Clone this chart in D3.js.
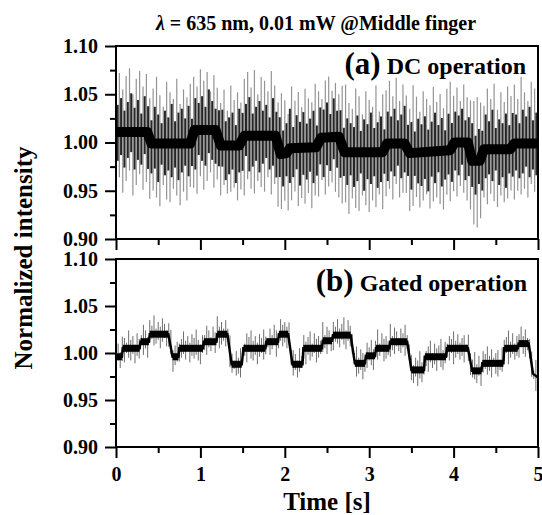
<!DOCTYPE html>
<html>
<head>
<meta charset="utf-8">
<script src="https://cdn.jsdelivr.net/npm/d3@7"></script>
<style>
  body { margin: 0; background: #fff; }
  svg text { font-family: "Liberation Serif", "Times New Roman", serif; font-weight: bold; }
</style>
</head>
<body>
<div class="chart"></div>
<script>
// step levels of the slow (pulse) signal
var coreAT = [0, 0.37, 0.42, 0.88, 0.93, 1.18, 1.24, 1.46, 1.52, 1.89, 1.95, 2.02, 2.06, 2.37, 2.43, 2.64, 2.71, 3.16, 3.21, 3.42, 3.48, 3.96, 4.01, 4.17, 4.22, 4.31, 4.36, 4.67, 4.72, 5.0];
var coreAV = [1.011, 1.011, 0.999, 0.999, 1.013, 1.013, 0.997, 0.997, 1.007, 1.007, 0.988, 0.989, 0.994, 0.995, 1.005, 1.006, 0.990, 0.990, 0.999, 0.999, 0.989, 0.992, 1.000, 1.000, 0.981, 0.981, 0.993, 0.993, 0.999, 0.999];

var coreBT = [0, 0.07, 0.08, 0.28, 0.29, 0.39, 0.40, 0.62, 0.67, 0.74, 0.75, 1.03, 1.04, 1.19, 1.20, 1.32, 1.37, 1.49, 1.51, 1.77, 1.78, 1.92, 1.93, 2.04, 2.09, 2.21, 2.22, 2.44, 2.45, 2.56, 2.57, 2.78, 2.83, 2.95, 2.96, 3.07, 3.08, 3.24, 3.25, 3.45, 3.50, 3.65, 3.66, 3.91, 3.92, 4.17, 4.22, 4.33, 4.34, 4.59, 4.60, 4.76, 4.77, 4.89, 4.94, 5.0];
var coreBV = [0.996, 0.996, 1.005, 1.005, 1.012, 1.012, 1.020, 1.020, 0.996, 0.996, 1.005, 1.005, 1.012, 1.012, 1.020, 1.020, 0.988, 0.988, 1.005, 1.005, 1.012, 1.012, 1.020, 1.020, 0.988, 0.988, 1.005, 1.005, 1.013, 1.013, 1.019, 1.019, 0.989, 0.989, 0.997, 0.997, 1.005, 1.005, 1.012, 1.012, 0.982, 0.982, 0.996, 0.996, 1.005, 1.005, 0.981, 0.981, 0.989, 0.989, 1.005, 1.005, 1.010, 1.010, 0.978, 0.974];

// fast fluctuation, excursion above / below the slow level, in units of 0.001
// (a) long light spikes
var aHi1 = [52, 61, 44, 58, 66, 39, 55, 63, 47, 60, 42, 57, 69, 50, 38, 64, 53, 46, 67, 41, 56, 48, 62, 58, 45, 63, 51, 60, 40, 57, 49, 44, 58, 36, 62, 47, 55, 41, 59, 66, 50, 68, 43, 61, 57, 46, 67, 52, 44, 63, 55, 38, 64, 49, 58, 42, 61, 51, 47, 66, 53, 40, 59, 63, 48, 56, 44, 62, 70, 51, 45, 66, 58, 39, 63, 54, 47, 69, 42, 60, 57, 65, 49, 68, 44, 61, 53, 46, 70, 58, 42, 63, 55, 48, 67, 51, 59, 44, 64, 71, 50, 57, 43, 60, 47, 55, 62, 66, 58, 45, 63, 52, 68, 41, 59, 49, 65, 54, 61, 46, 69, 53, 44, 64, 57, 50];
var aLo1 = [58, 47, 63, 51, 40, 66, 55, 44, 60, 52, 62, 49, 56, 65, 43, 58, 61, 47, 54, 64, 50, 59, 45, 57, 66, 48, 62, 53, 44, 60, 46, 52, 41, 50, 48, 44, 57, 49, 62, 45, 55, 60, 47, 53, 58, 43, 61, 50, 64, 57, 49, 62, 54, 45, 60, 52, 58, 47, 63, 50, 56, 44, 59, 51, 47, 57, 63, 60, 52, 64, 48, 58, 61, 45, 55, 62, 50, 57, 44, 59, 53, 47, 58, 42, 56, 51, 48, 60, 55, 46, 57, 50, 44, 59, 52, 48, 55, 61, 46, 53, 49, 56, 45, 52, 60, 58, 66, 69, 62, 50, 57, 46, 54, 60, 48, 55, 51, 44, 58, 49, 53, 47, 56, 42, 50, 45];
// (a) shorter dark spikes
var aHi2 = [28, 35, 22, 31, 40, 25, 33, 19, 37, 29, 24, 38, 30, 21, 34, 27, 41, 23, 32, 36, 26, 39, 20, 33, 28, 35, 24, 42, 30, 22, 31, 37, 25, 29, 34, 21, 38, 27, 33, 40, 23, 30, 36, 26, 32, 19, 39, 28, 35, 24, 31, 41, 22, 34, 27, 37, 25, 30, 38, 21, 33, 29, 36, 24, 40, 27, 32, 23, 35, 30, 26, 38, 22, 34, 29, 41, 25, 31, 37, 20, 33, 28, 36, 24, 30, 39, 26, 32, 22, 35, 29, 37, 23, 31, 40, 27, 34, 21, 38, 25, 32, 28, 35, 23, 30, 39, 26, 33, 24, 36, 29, 41, 22, 31, 27, 37, 25, 34, 30, 21, 35, 28, 38, 24, 32];
var aLo2 = [30, 24, 37, 27, 21, 39, 29, 34, 23, 36, 31, 26, 40, 22, 33, 28, 35, 25, 38, 30, 23, 34, 29, 41, 26, 32, 37, 24, 31, 35, 27, 22, 36, 30, 25, 39, 28, 33, 21, 37, 32, 26, 38, 29, 23, 35, 31, 40, 27, 34, 24, 36, 30, 22, 39, 28, 33, 25, 37, 31, 26, 41, 29, 35, 23, 32, 38, 27, 34, 24, 36, 30, 22, 40, 28, 33, 25, 37, 31, 26, 39, 29, 34, 23, 36, 30, 27, 38, 24, 32, 35, 28, 41, 26, 33, 22, 37, 30, 25, 36, 29, 34, 23, 39, 31, 27, 35, 24, 38, 30, 26, 33, 22, 37, 29, 40, 25, 32, 28, 36, 31, 24, 35, 27, 33];
// (b) spikes
var bHi = [8, 14, 5, 17, 11, 6, 19, 9, 13, 4, 16, 10, 7, 18, 12, 5, 15, 9, 20, 6, 13, 8, 17, 11, 4, 14, 19, 7, 12, 16, 5, 10, 18, 8, 13, 6, 15, 11, 20, 9, 4, 14, 7, 17, 12, 5, 16, 10, 19, 8, 13, 6, 15, 9, 18, 11, 4, 14, 7, 17, 10, 5, 16, 12, 19, 8, 13, 6, 15, 11, 20, 9, 4, 14, 7, 18, 12, 5, 16, 10, 13, 8, 19, 6, 15, 11, 4, 17, 9, 14, 7, 12, 18, 5, 16, 10, 13, 8, 20, 6, 15, 11, 4, 14, 9, 17, 7, 12, 19, 5, 16, 10, 13, 8, 18, 6, 15, 11, 4, 14, 9, 17, 7, 12, 20, 5, 16, 10, 13, 8, 19, 6, 15, 11, 4, 14, 9, 18, 7, 12, 16, 5, 13, 10, 20, 8, 15, 6, 11, 17, 4, 14, 9, 12, 19, 7, 16, 5, 13, 10, 18, 8, 15, 6, 11, 14, 4, 17, 9, 12, 20, 7, 16, 5, 13, 10, 18, 8, 15, 6, 11, 14, 4, 17, 9, 12, 19, 7, 16, 5, 13, 10, 18, 8, 15, 6, 11, 14, 4, 17, 9];
var bLo = [7, 4, 12, 9, 15, 5, 10, 13, 6, 16, 8, 11, 3, 14, 7, 17, 9, 5, 12, 10, 6, 15, 8, 4, 13, 11, 7, 16, 9, 5, 14, 10, 6, 12, 3, 15, 8, 11, 7, 13, 17, 5, 9, 14, 6, 10, 4, 12, 8, 15, 11, 7, 13, 3, 16, 9, 5, 12, 10, 14, 6, 8, 15, 4, 11, 13, 7, 17, 9, 5, 12, 10, 6, 14, 8, 3, 16, 11, 7, 13, 9, 15, 5, 10, 12, 6, 14, 8, 4, 11, 17, 7, 13, 9, 5, 15, 10, 6, 12, 8, 14, 3, 11, 16, 7, 9, 13, 5, 10, 15, 6, 12, 8, 4, 14, 11, 7, 17, 9, 13, 5, 10, 15, 6, 12, 8, 3, 14, 11, 7, 16, 9, 13, 5, 10, 12, 6, 15, 8, 4, 11, 14, 7, 17, 9, 13, 5, 10, 16, 6, 12, 8, 15, 3, 11, 14, 7, 9, 13, 5, 17, 10, 6, 12, 8, 15, 4, 11, 14, 7, 9, 13, 5, 16, 10, 6, 12, 8, 15, 3, 11, 14, 7, 9, 13, 5, 17, 10, 6, 12, 8, 15, 4, 11, 14, 7, 9, 13, 5, 16, 10];

var yMajor = [0.90, 0.95, 1.00, 1.05, 1.10];
var yMinor = [0.925, 0.975, 1.025, 1.075];
var xMajor = [0, 1, 2, 3, 4, 5];
var xMinor = [0.5, 1.5, 2.5, 3.5, 4.5];

var width = 542, height = 515;
var svg = d3.select(".chart").append("svg")
    .attr("width", width)
    .attr("height", height);

var x = d3.scaleLinear().domain([0, 5]).range([116, 538]);
var yA = d3.scaleLinear().domain([0.9, 1.1]).range([239, 46]);
var yB = d3.scaleLinear().domain([0.9, 1.1]).range([447, 259]);
var coreA = d3.scaleLinear().domain(coreAT).range(coreAV);
var coreB = d3.scaleLinear().domain(coreBT).range(coreBV);

function spikes(g, hi, lo, core, y, offset, color, w) {
    var n = hi.length;
    var t = function(i) { return (i + offset) * 5 / (n - 1 + offset * 2); };
    g.selectAll(null)
        .data(hi)
        .enter()
        .append("line")
        .attr("x1", function(d, i) { return x(t(i)); })
        .attr("x2", function(d, i) { return x(t(i)); })
        .attr("y1", function(d, i) { return y(core(t(i)) + d / 1000); })
        .attr("y2", function(d, i) { return y(core(t(i)) - lo[i] / 1000); })
        .attr("stroke", color)
        .attr("stroke-width", w);
}

function panel(y, top, bottom, clipId) {
    var g = svg.append("g");
    svg.append("clipPath").attr("id", clipId)
      .append("rect")
        .attr("x", 116).attr("y", top)
        .attr("width", 422).attr("height", bottom - top);
    var plot = g.append("g").attr("clip-path", "url(#" + clipId + ")");

    g.append("g")
        .attr("transform", "translate(116,0)")
        .call(d3.axisLeft(y).tickValues(yMajor).tickSize(11).tickPadding(7).tickFormat(d3.format(".2f")))
        .call(function(a) { a.select(".domain").remove(); });
    g.append("g")
        .attr("transform", "translate(116,0)")
        .call(d3.axisLeft(y).tickValues(yMinor).tickSize(6).tickFormat(""))
        .call(function(a) { a.select(".domain").remove(); });
    g.append("g")
        .attr("class", "xmaj")
        .attr("transform", "translate(0," + bottom + ")")
        .call(d3.axisBottom(x).tickValues(xMajor).tickSize(11).tickPadding(9).tickFormat(d3.format("d")))
        .call(function(a) { a.select(".domain").remove(); });
    g.append("g")
        .attr("transform", "translate(0," + bottom + ")")
        .call(d3.axisBottom(x).tickValues(xMinor).tickSize(6).tickFormat(""))
        .call(function(a) { a.select(".domain").remove(); });

    g.append("rect")
        .attr("x", 116).attr("y", top)
        .attr("width", 422).attr("height", bottom - top)
        .attr("fill", "none")
        .attr("stroke", "#000")
        .attr("stroke-width", 2);
    return { g: g, plot: plot };
}

var pa = panel(yA, 46, 239, "clipA");
var pb = panel(yB, 259, 447, "clipB");
pa.g.select(".xmaj").selectAll("text").remove();

svg.selectAll(".tick line").attr("stroke-width", 2);
svg.selectAll(".tick text")
    .attr("font-size", 20)
    .attr("fill", "#000")
    .attr("font-family", "Liberation Serif, Times New Roman, serif")
    .attr("font-weight", "bold");

// panel (a)
spikes(pa.plot, aHi1, aLo1, coreA, yA, 0, "#949494", 1.2);
spikes(pa.plot, aHi2, aLo2, coreA, yA, 0.5, "#262626", 2);
pa.plot.append("path")
    .datum(coreAT)
    .attr("d", d3.line().x(function(d) { return x(d); }).y(function(d, i) { return yA(coreAV[i]); }))
    .attr("fill", "none")
    .attr("stroke", "#000")
    .attr("stroke-linejoin", "round")
    .attr("stroke-width", 10);

// panel (b): thin trace plus thick plateaus
spikes(pb.plot, bHi, bLo, coreB, yB, 0, "#6e6e6e", 1);
pb.plot.append("path")
    .datum(coreBT)
    .attr("d", d3.line().x(function(d) { return x(d); }).y(function(d, i) { return yB(coreBV[i]); }))
    .attr("fill", "none")
    .attr("stroke", "#000")
    .attr("stroke-width", 2.5);
pb.plot.selectAll(".plateau")
    .data(d3.range(coreBT.length - 1).filter(function(i) { return coreBV[i] === coreBV[i + 1]; }))
    .enter()
    .append("line")
    .attr("class", "plateau")
    .attr("x1", function(i) { return x(coreBT[i]); })
    .attr("x2", function(i) { return x(coreBT[i + 1]); })
    .attr("y1", function(i) { return yB(coreBV[i]); })
    .attr("y2", function(i) { return yB(coreBV[i]); })
    .attr("stroke", "#000")
    .attr("stroke-width", 7);

// labels
var title = svg.append("text")
    .attr("x", 316).attr("y", 30)
    .attr("text-anchor", "middle")
    .attr("font-size", 20);
title.append("tspan").attr("font-style", "italic").text("λ");
title.append("tspan").text(" = 635 nm, 0.01 mW @Middle finger");

var la = svg.append("text")
    .attr("x", 526).attr("y", 74)
    .attr("text-anchor", "end");
la.append("tspan").attr("font-size", 31).text("(a)");
la.append("tspan").attr("font-size", 24).text(" DC operation");

var lb = svg.append("text")
    .attr("x", 527).attr("y", 291)
    .attr("text-anchor", "end");
lb.append("tspan").attr("font-size", 31).text("(b)");
lb.append("tspan").attr("font-size", 24).text(" Gated operation");

svg.append("text")
    .attr("x", 327).attr("y", 510)
    .attr("text-anchor", "middle")
    .attr("font-size", 25)
    .text("Time [s]");

svg.append("text")
    .attr("transform", "translate(32,258) rotate(-90)")
    .attr("text-anchor", "middle")
    .attr("font-size", 25)
    .text("Normalized intensity");
</script>
</body>
</html>
